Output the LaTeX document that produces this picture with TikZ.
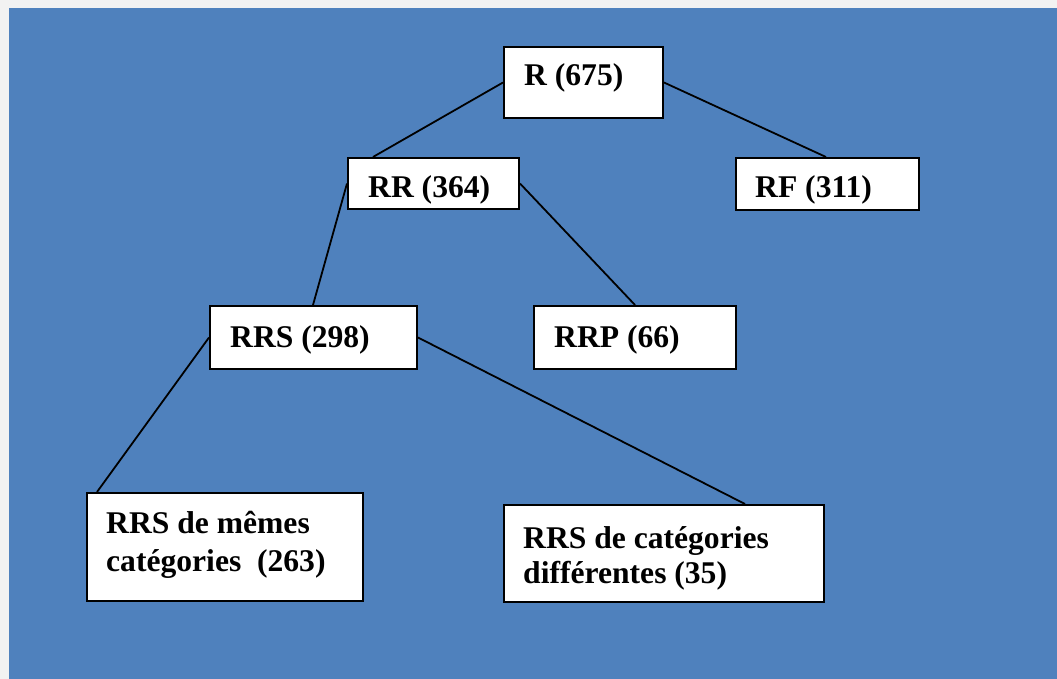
\documentclass[tikz,border=0pt]{standalone}
\usepackage{fontspec}
\setmainfont{Liberation Serif}
\usetikzlibrary{calc}
\definecolor{bgblue}{HTML}{4F81BD}
\definecolor{bggray}{HTML}{F2F2F2}
\tikzset{
  box/.style={draw=black, line width=2pt, fill=white, inner sep=0pt, anchor=north west},
  txt/.style={anchor=base west, inner sep=0pt, font=\fontsize{31.6}{36}\selectfont\bfseries},
  link/.style={draw=black, line width=1.8pt}
}
\begin{document}
\begin{tikzpicture}[x=1pt,y=-1pt]
\useasboundingbox (0,0) rectangle (1057,679);
\fill[bggray] (0,0) rectangle (1057,679);
\fill[bgblue] (9,8) rectangle (1057,679);
% boxes
\node[box, minimum width=159pt, minimum height=71pt] (R) at (503,46) {};
\node[box, minimum width=171pt, minimum height=51pt] (RR) at (347,157) {};
\node[box, minimum width=183pt, minimum height=52pt] (RF) at (735,157) {};
\node[box, minimum width=207pt, minimum height=63pt] (RRS) at (209,305) {};
\node[box, minimum width=202pt, minimum height=63pt] (RRP) at (533,305) {};
\node[box, minimum width=276pt, minimum height=108pt] (RRSm) at (86,492) {};
\node[box, minimum width=320pt, minimum height=97pt] (RRSd) at (503,504) {};
% texts
\node[txt] (tR) at (524,86) {R (675)};
\node[txt] (tRR) at (368,197) {RR (364)};
\node[txt] (tRF) at (755,197) {RF (311)};
\node[txt] (tRRS) at (230,347) {RRS (298)};
\node[txt] (tRRP) at (554,347) {RRP (66)};
\node[txt] (tm1) at (106,533) {RRS de mêmes};
\node[txt] (tm2) at (106,571) {catégories\ \ (263)};
\node[txt] (td1) at (523,548) {RRS de catégories};
\node[txt] (td2) at (523,583) {différentes (35)};
% connectors
\draw[link] (R.west) -- ([xshift=26pt]RR.north west);
\draw[link] (R.east) -- ([xshift=91pt]RF.north west);
\draw[link] (RR.west) -- ([xshift=104pt]RRS.north west);
\draw[link] (RR.east) -- ([xshift=102pt]RRP.north west);
\draw[link] (RRS.west) -- ([xshift=11pt]RRSm.north west);
\draw[link] (RRS.east) -- ([xshift=242pt]RRSd.north west);
\end{tikzpicture}
\end{document}
